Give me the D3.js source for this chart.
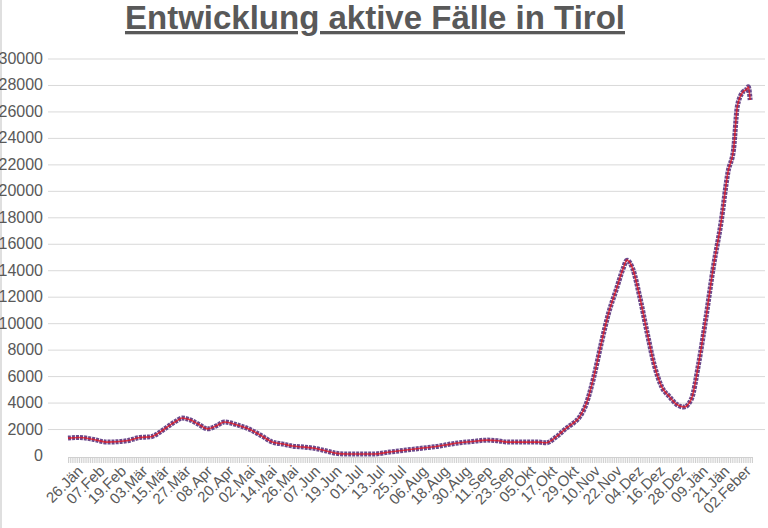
<!DOCTYPE html>
<html><head><meta charset="utf-8">
<script src="https://cdn.jsdelivr.net/npm/d3@7"></script>
<style>body{margin:0;background:#fff}svg{display:block}</style>
</head><body><svg id="c" width="768" height="528"></svg>
<script>
// day offsets from 26 Jän
const days = [0,6,14,21,32,39,45,50,55,59,62,66,71,76,81,85,92,99,105,111,117,122,128,133,140,146,152,159,166,175,184,193,202,208,213,220,228,234,239,245,251,256,260,266,271,275,278,282,286,290,294,298,302,304,307,311,315,319,323,327,331,335,339,343,347,351,355,359,362,364,367,369,370,371];
const values = [1350,1400,1250,1050,1150,1400,1450,1800,2300,2650,2870,2750,2400,2050,2300,2570,2350,2000,1550,1060,900,750,680,600,400,200,150,150,150,300,450,600,750,900,1000,1100,1200,1150,1050,1050,1050,1050,1000,1500,2100,2500,2900,4000,6000,8500,10800,12500,14200,14800,14200,12000,9300,6800,5200,4500,3900,3700,4300,7000,10500,14300,17500,21500,23200,26400,27500,27700,27900,26900];
const xLabels = ["26.Jän","07.Feb","19.Feb","03.Mär","15.Mär","27.Mär","08.Apr","20.Apr","02.Mai","14.Mai","26.Mai","07.Jun","19.Jun","01.Jul","13.Jul","25.Jul","06.Aug","18.Aug","30.Aug","11.Sep","23.Sep","05.Okt","17.Okt","29.Okt","10.Nov","22.Nov","04.Dez","16.Dez","28.Dez","09.Jän","21.Jän","02.Feber"];
const yTicks = d3.range(0,30001,2000);

const svg = d3.select("#c");
const font = "'Liberation Sans Narrow','Arial Narrow','Liberation Sans',sans-serif";
const x = d3.scaleLinear().domain([0,372]).range([68,752]);
const y = d3.scaleLinear().domain([0,30000]).range([456,59]);
const xl = d3.scalePoint().domain(xLabels).range([84,752]);

svg.append("line").attr("x1",1).attr("x2",1).attr("y1",0).attr("y2",528).attr("stroke","#bfbfbf");

svg.append("text").attr("x",375).attr("y",29).attr("text-anchor","middle")
  .attr("font-family","'Liberation Sans Narrow','Liberation Sans',Arial,sans-serif").attr("font-weight","bold")
  .attr("font-size",33).attr("fill","#595959").attr("text-decoration","underline")
  .text("Entwicklung aktive Fälle in Tirol");

const g = svg.append("g");
g.selectAll("line.grid").data(yTicks.filter(d=>d>0)).join("line")
  .attr("x1",48).attr("x2",765).attr("y1",d=>y(d)).attr("y2",d=>y(d))
  .attr("stroke","#d9d9d9").attr("stroke-width",1);
g.selectAll("text.yl").data(yTicks).join("text")
  .attr("x",43).attr("y",d=>y(d)+5).attr("text-anchor","end")
  .attr("font-family",font).attr("font-size",16).attr("fill","#595959").text(d=>d);

// dense daily tick band
const ax = svg.append("g").attr("transform","translate(0,457)")
  .call(d3.axisBottom(x).tickValues(d3.range(0,373,1)).tickSize(6).tickFormat(""));
ax.select(".domain").attr("stroke","#d0d0d0");
ax.selectAll(".tick line").attr("stroke","#d0d0d0");

svg.selectAll("text.xl").data(xLabels).join("text")
  .attr("transform",d=>`translate(${xl(d)},472) rotate(-45)`)
  .attr("text-anchor","end").attr("font-family",font).attr("font-size",15)
  .attr("fill","#595959").text(d=>d);

const pts = days.map((d,i)=>[d,values[i]]);
const line = d3.line().x(d=>x(d[0])).y(d=>y(d[1])).curve(d3.curveMonotoneX);
svg.append("path").attr("d",line(pts)).attr("fill","none")
  .attr("stroke","#6b4a8c").attr("stroke-width",5).attr("stroke-dasharray","3,1");
svg.append("path").attr("d",line(pts)).attr("fill","none")
  .attr("stroke","#e8141c").attr("stroke-width",1.6).attr("opacity",0.75);
</script></body></html>
